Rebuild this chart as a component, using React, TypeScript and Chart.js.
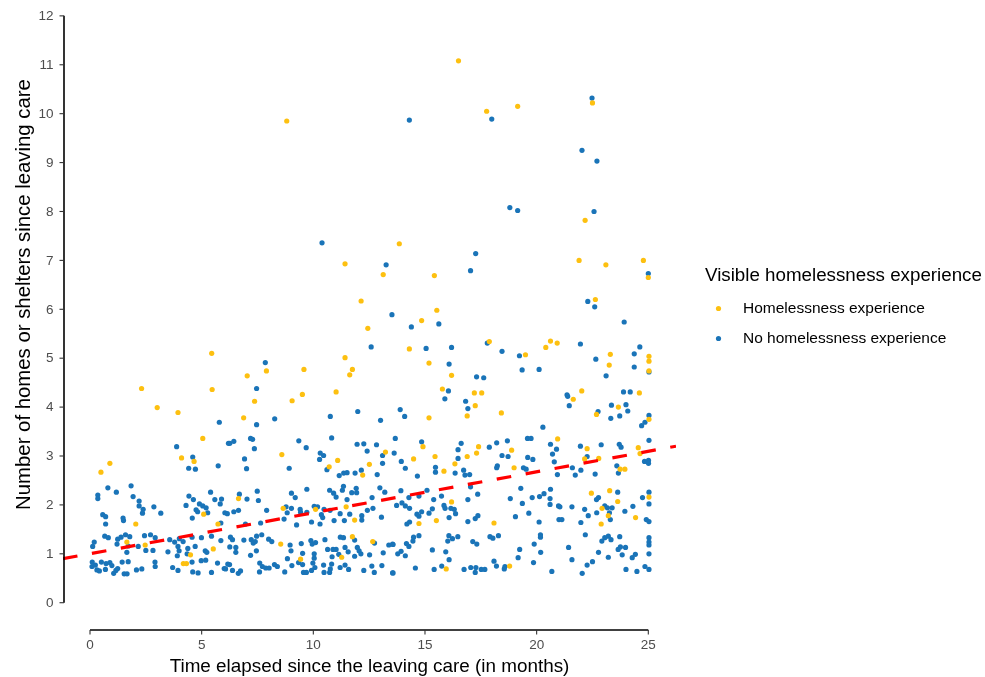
import React, { useEffect, useRef } from "react";
import { Chart, registerables } from "chart.js";

Chart.register(...registerables);

// ---------- text ----------
const X_TITLE = "Time elapsed since the leaving care (in months)";
const Y_TITLE = "Number of homes or shelters since leaving care";
const LEGEND_TITLE = "Visible homelessness experience";
const SERIES_LABELS = ["Homelessness experience", "No homelessness experience"];

// ---------- ticks ----------
const X_TICKS = [0, 5, 10, 15, 20, 25];
const Y_TICKS = [0, 1, 2, 3, 4, 5, 6, 7, 8, 9, 10, 11, 12];

// ---------- trend line (end points) ----------
const TREND_X = [-1.21, 26.24];
const TREND_Y = [0.9, 3.2];

// ---------- series: [months, homes] ----------
const homelessness: [number, number][] = [
  [16.5, 11.08], [8.81, 9.85], [17.76, 10.05], [19.15, 10.15], [22.5, 10.22], [22.17, 7.82],
  [13.85, 7.34], [11.42, 6.93], [13.13, 6.71], [15.42, 6.69], [21.9, 7.0], [23.1, 6.91],
  [24.78, 7.0], [25.0, 6.65], [12.14, 6.17], [22.63, 6.2], [15.53, 5.98], [14.85, 5.77],
  [12.44, 5.61], [14.3, 5.19], [17.88, 5.34], [20.62, 5.35], [20.41, 5.22], [20.92, 5.31],
  [19.5, 5.07], [15.18, 4.9], [16.19, 4.65], [15.78, 4.37], [17.21, 4.29], [17.54, 4.29],
  [23.3, 5.08], [23.25, 4.86], [25.03, 5.04], [25.03, 4.94], [25.03, 4.74], [22.02, 4.33],
  [24.6, 4.29],
  [5.45, 5.1], [11.42, 5.01], [11.75, 4.77], [11.63, 4.66], [9.58, 4.77], [7.9, 4.74],
  [7.04, 4.64], [2.31, 4.38], [5.47, 4.36], [9.51, 4.26], [11.02, 4.31],
  [3.01, 3.99], [3.94, 3.89], [5.05, 3.36], [0.49, 2.67], [0.89, 2.85], [4.1, 2.96],
  [4.66, 2.89], [2.05, 1.61], [5.09, 1.81], [5.73, 1.61], [1.65, 1.24], [2.47, 1.18],
  [4.5, 0.98], [5.52, 1.1], [4.18, 0.8], [4.32, 0.8],
  [7.37, 4.12], [6.88, 3.78], [9.05, 4.13], [8.59, 3.03], [11.09, 2.91], [10.71, 2.78],
  [13.23, 3.08], [12.51, 2.83], [12.21, 2.61], [6.65, 2.13], [8.65, 1.93], [10.1, 1.91],
  [11.47, 1.96], [11.85, 1.69], [8.54, 1.2], [11.27, 0.93], [11.75, 1.35], [12.66, 1.25],
  [9.43, 0.89],
  [17.25, 4.03], [16.89, 3.82], [18.42, 3.88], [15.18, 3.78], [14.91, 3.19], [15.45, 2.99],
  [14.49, 2.94], [15.85, 2.69], [16.34, 2.84], [16.89, 2.99], [17.31, 3.06], [17.4, 3.19],
  [18.88, 3.12], [18.99, 2.76], [20.94, 3.35], [16.19, 2.06], [14.73, 1.62], [15.51, 1.68],
  [18.09, 1.63], [15.95, 0.69], [18.79, 0.75],
  [21.64, 4.16], [23.66, 4.0], [22.68, 3.85], [25.03, 3.75], [22.26, 3.15], [22.15, 2.94],
  [22.78, 2.95], [24.55, 3.17], [24.63, 3.05], [23.74, 2.73], [23.95, 2.73], [22.45, 2.24],
  [23.27, 2.29], [23.63, 2.07], [25.03, 2.16], [22.93, 1.93], [23.21, 1.78], [24.43, 1.74],
  [22.89, 1.61],
];

const noHomelessness: [number, number][] = [
  [14.3, 9.87], [17.99, 9.89], [22.48, 10.32], [22.03, 9.25], [22.7, 9.03], [18.8, 8.08],
  [19.15, 8.02], [22.57, 8.0], [10.39, 7.36], [17.27, 7.14], [17.04, 6.79], [13.26, 6.91],
  [25.0, 6.73], [22.29, 6.16], [22.6, 6.05], [23.92, 5.74], [13.52, 5.89], [15.62, 5.7],
  [14.39, 5.64], [12.59, 5.23], [15.05, 5.2], [16.19, 5.22], [17.79, 5.31], [18.45, 5.14],
  [21.96, 5.29], [19.23, 5.05], [19.35, 4.76], [20.11, 4.77], [16.08, 4.88], [17.31, 4.62],
  [17.63, 4.6], [16.05, 4.33], [22.65, 4.98], [23.11, 4.64], [24.37, 5.09], [24.62, 5.23],
  [24.37, 4.82], [25.03, 4.72], [23.89, 4.31], [24.19, 4.31], [21.36, 4.25],
  [7.85, 4.91], [7.46, 4.38],
  [5.79, 3.69], [6.2, 3.26], [3.88, 3.19], [4.6, 2.98], [4.42, 2.75], [4.72, 2.73],
  [5.74, 2.8], [0.8, 2.35], [1.18, 2.26], [1.84, 2.39], [1.93, 2.17], [0.35, 2.2],
  [0.35, 2.13], [2.2, 2.08], [2.2, 1.98], [2.38, 1.91], [2.35, 1.83], [2.86, 1.96],
  [3.17, 1.83], [0.57, 1.8], [0.7, 1.76], [0.7, 1.61], [1.48, 1.73], [1.5, 1.68],
  [4.43, 2.18], [4.63, 2.11], [4.3, 1.99], [5.4, 2.26], [5.59, 2.11], [5.89, 2.12],
  [5.83, 2.02], [4.9, 2.02], [5.05, 1.98], [5.2, 1.94], [4.75, 1.9], [4.82, 1.86],
  [5.27, 1.84], [4.58, 1.73], [5.86, 1.63], [6.04, 1.84],
  [0.66, 1.36], [0.82, 1.33], [1.24, 1.3], [1.39, 1.34], [1.59, 1.39], [1.78, 1.35],
  [2.44, 1.37], [2.71, 1.39], [2.92, 1.33], [2.16, 1.15], [2.5, 1.07], [2.82, 1.07],
  [0.19, 1.24], [0.12, 1.15], [1.71, 1.16], [1.65, 1.03], [1.21, 1.2], [3.57, 1.29],
  [3.79, 1.24], [4.0, 1.31], [4.17, 1.25], [3.94, 1.15], [3.91, 0.96], [3.99, 1.06],
  [4.38, 1.11], [4.35, 1.0], [4.57, 1.34], [4.71, 1.15], [4.99, 1.33], [5.16, 1.06],
  [5.23, 1.03], [5.44, 1.36], [5.86, 1.27], [3.49, 1.04], [2.91, 0.83], [2.92, 0.74],
  [0.1, 0.83], [0.09, 0.74], [0.24, 0.77], [0.31, 0.67], [0.42, 0.65], [0.51, 0.83],
  [0.72, 0.8], [0.89, 0.82], [0.98, 0.76], [0.69, 0.68], [1.06, 0.6], [1.16, 0.66],
  [1.24, 0.7], [1.53, 0.59], [1.66, 0.59], [1.44, 0.83], [1.71, 0.84], [2.08, 0.67],
  [2.32, 0.69], [3.7, 0.72], [3.94, 0.66], [4.57, 0.83], [4.6, 0.63], [4.84, 0.61],
  [4.98, 0.86], [5.18, 0.87], [5.44, 0.62], [5.71, 0.81], [6.01, 0.7], [6.17, 0.79],
  [7.46, 3.64], [8.27, 3.76], [10.76, 3.81], [11.99, 3.91], [13.01, 3.73], [6.26, 3.26],
  [6.44, 3.3], [7.19, 3.36], [7.28, 3.34], [7.36, 3.15], [6.92, 2.94], [7.01, 2.74],
  [9.35, 3.31], [9.68, 3.17], [8.92, 2.75], [10.82, 3.37], [10.31, 3.06], [10.46, 3.01],
  [10.28, 2.93], [10.61, 2.72], [11.96, 3.24], [12.26, 3.25], [12.41, 3.1], [12.83, 3.23],
  [13.1, 3.01], [13.1, 2.85], [12.15, 2.71], [12.86, 2.62], [11.16, 2.6], [11.36, 2.65],
  [11.51, 2.66], [11.87, 2.65],
  [6.69, 2.22], [7.03, 2.12], [7.49, 2.28], [7.54, 2.09], [9.02, 2.24], [9.19, 2.15],
  [9.71, 2.32], [10.73, 2.3], [10.91, 2.24], [11.02, 2.16], [11.3, 2.3], [11.35, 2.38],
  [11.51, 2.11], [11.72, 2.25], [11.92, 2.34], [11.94, 2.25], [12.63, 2.15], [12.98, 2.35],
  [13.2, 2.26],
  [6.15, 1.82], [6.44, 1.86], [6.65, 1.89], [6.96, 1.61], [7.64, 1.63], [7.91, 1.89],
  [8.78, 1.96], [8.83, 1.84], [9.02, 1.93], [8.69, 1.71], [9.25, 1.59], [9.41, 1.91],
  [9.43, 1.85], [9.71, 1.85], [10.04, 1.97], [10.19, 1.96], [10.36, 1.8], [10.42, 1.74],
  [10.3, 1.61], [9.92, 1.65], [10.48, 1.91], [10.75, 1.89], [10.93, 1.68], [11.2, 1.82],
  [11.39, 1.68], [11.63, 1.81], [12.17, 1.78], [12.17, 1.69], [12.42, 1.89], [12.67, 1.93],
  [13.05, 1.75],
  [6.29, 1.34], [6.26, 1.14], [6.53, 1.13], [6.53, 1.03], [6.38, 1.29], [6.89, 1.28],
  [7.22, 1.29], [7.31, 1.22], [7.4, 1.25], [7.46, 1.36], [7.69, 1.39], [7.19, 0.97],
  [7.45, 1.06], [8.0, 1.3], [8.14, 1.25], [8.96, 1.18], [9.0, 1.06], [8.84, 0.9],
  [9.46, 1.21], [9.52, 1.01], [9.89, 1.27], [9.95, 1.2], [10.04, 1.0], [10.1, 1.23],
  [10.52, 1.29], [10.64, 1.09], [10.88, 1.09], [11.02, 1.09], [11.21, 1.34], [11.35, 1.33],
  [11.14, 0.99], [10.84, 0.94], [11.42, 1.13], [11.56, 1.04], [11.85, 1.28], [11.97, 1.13],
  [12.05, 1.06], [12.13, 1.0], [11.85, 0.95], [12.52, 0.98], [12.74, 1.22], [13.13, 1.02],
  [13.38, 1.18], [13.55, 1.2],
  [6.25, 0.78], [6.07, 0.69], [6.38, 0.66], [6.64, 0.6], [6.74, 0.65], [7.59, 0.63],
  [7.6, 0.81], [7.72, 0.74], [7.87, 0.71], [8.02, 0.71], [8.26, 0.78], [8.39, 0.74],
  [8.72, 0.63], [9.04, 0.76], [9.34, 0.82], [9.52, 0.78], [9.56, 0.62], [9.69, 0.62],
  [9.92, 0.66], [9.98, 0.81], [10.04, 0.91], [10.07, 0.72], [10.46, 0.77], [10.48, 0.62],
  [10.73, 0.62], [10.76, 0.69], [10.82, 0.79], [11.2, 0.72], [11.42, 0.77], [11.58, 0.68],
  [12.26, 0.66], [12.62, 0.75], [12.73, 0.62], [13.07, 0.76], [13.55, 0.61],
  [15.89, 4.17], [16.82, 4.12], [16.92, 3.97], [13.89, 3.95], [14.09, 3.81], [20.28, 3.59],
  [13.67, 3.36], [13.62, 3.06], [14.85, 3.29], [16.62, 3.26], [16.48, 3.13], [16.48, 2.95],
  [13.94, 2.89], [14.12, 2.75], [15.47, 2.77], [15.47, 2.67], [14.66, 2.59], [16.35, 2.65],
  [16.73, 2.71], [16.79, 2.61], [17.0, 2.62], [17.88, 3.18], [18.21, 3.27], [18.69, 3.31],
  [18.45, 3.01], [18.72, 2.99], [18.24, 2.8], [18.21, 2.76], [19.59, 3.36], [19.75, 3.36],
  [20.62, 3.24], [20.89, 3.14], [20.71, 3.04], [19.6, 2.97], [19.83, 2.93], [19.41, 2.76],
  [19.53, 2.73], [20.79, 2.88], [20.93, 2.62],
  [13.92, 2.29], [15.09, 2.3], [17.04, 2.37], [17.36, 2.22], [19.29, 2.34], [20.62, 2.32],
  [14.28, 2.15], [14.73, 2.18], [15.39, 2.11], [15.74, 2.18], [16.92, 2.11], [18.82, 2.13],
  [19.36, 2.03], [19.8, 2.15], [20.13, 2.17], [20.33, 2.23], [20.6, 2.13], [20.6, 2.01],
  [20.98, 1.98],
  [13.73, 1.99], [13.97, 2.04], [14.12, 1.98], [14.31, 1.93], [14.19, 1.61], [14.31, 1.65],
  [14.64, 1.81], [14.73, 1.77], [14.85, 1.86], [15.18, 1.83], [15.33, 1.92], [15.85, 1.99],
  [15.9, 1.93], [16.16, 1.93], [16.31, 1.91], [16.37, 1.82], [16.08, 1.74], [16.92, 1.66],
  [17.25, 1.72], [17.37, 1.78], [19.05, 1.76], [19.65, 1.83], [20.11, 1.65], [21.0, 1.7],
  [13.57, 1.19], [13.78, 1.0], [13.93, 1.05], [14.12, 0.96], [14.17, 1.21], [14.28, 1.15],
  [14.46, 1.26], [14.49, 1.34], [14.73, 1.37], [15.33, 1.08], [15.93, 1.04], [16.08, 0.88],
  [16.07, 1.37], [16.02, 1.26], [16.23, 1.31], [16.47, 1.35], [17.14, 1.25], [17.32, 1.2],
  [17.91, 1.35], [18.04, 1.32], [18.29, 1.37], [19.24, 1.09], [19.17, 0.92], [19.89, 1.2],
  [20.17, 1.39], [20.17, 1.34], [20.18, 1.03], [19.86, 0.82],
  [13.57, 0.61], [14.57, 0.71], [15.41, 0.68], [15.75, 0.75], [16.75, 0.68], [17.05, 0.72],
  [17.25, 0.62], [17.28, 0.72], [17.52, 0.68], [17.68, 0.68], [18.09, 0.85], [18.2, 0.75],
  [18.55, 0.69], [18.58, 0.74], [20.68, 0.64],
  [21.39, 4.22], [21.46, 4.03], [23.35, 4.04], [24.0, 4.05], [24.08, 3.92], [22.75, 3.91],
  [23.32, 3.77], [23.72, 3.82], [25.03, 3.83], [24.85, 3.69], [24.7, 3.62], [21.96, 3.2],
  [22.89, 3.23], [22.26, 2.99], [23.7, 3.24], [23.78, 3.18], [25.03, 3.32], [24.83, 2.89],
  [25.01, 2.91], [25.01, 2.85], [21.98, 2.71], [21.73, 2.61], [22.62, 2.63], [23.59, 2.8],
  [23.66, 2.65], [21.6, 2.76],
  [22.68, 2.11], [22.77, 2.15], [23.63, 2.26], [24.74, 2.15], [25.03, 2.26], [25.03, 2.02],
  [21.04, 1.96], [21.58, 1.96], [22.15, 1.91], [23.05, 1.98], [23.17, 1.94], [23.38, 1.94],
  [23.26, 1.84], [22.31, 1.78], [22.69, 1.84], [23.3, 1.7], [23.95, 1.87], [24.31, 1.97],
  [24.91, 1.7], [25.03, 1.66], [21.13, 1.7], [21.98, 1.64],
  [22.18, 1.39], [22.92, 1.26], [23.05, 1.33], [23.21, 1.36], [23.33, 1.29], [23.72, 1.35],
  [23.65, 1.09], [23.75, 1.14], [23.98, 1.13], [23.83, 0.98], [24.42, 0.99], [24.28, 0.92],
  [25.03, 1.33], [25.03, 1.24], [25.03, 1.18], [25.03, 1.0], [21.43, 1.13], [22.77, 1.03],
  [23.21, 0.93], [21.58, 0.88], [22.5, 0.84], [22.26, 0.77], [22.04, 0.6], [24.0, 0.68],
  [24.49, 0.64], [24.85, 0.74], [25.03, 0.68],
];

// ---------- styles ----------
const YELLOW = "#FDC010";
const BLUE = "#1A74B8";
const RED = "#FF0000";
const FONT = "'Liberation Sans', Arial, Helvetica, sans-serif";

function fitSize(ctx: CanvasRenderingContext2D, text: string, width: number): number {
  ctx.font = `100px ${FONT}`;
  const w = ctx.measureText(text).width;
  return (100 * width) / w;
}

const decorPlugin = {
  id: "decor",
  afterDraw(chart: any) {
    const { ctx, scales } = chart;
    const xs = scales.x;
    const ys = scales.y;
    const area = chart.chartArea;
    ctx.save();

    // axis lines (capped at tick range)
    ctx.strokeStyle = "#000000";
    ctx.lineWidth = 1.6;
    const yAxisX = area.left + 1;
    const xAxisY = area.bottom;
    ctx.beginPath();
    ctx.moveTo(yAxisX, ys.getPixelForValue(Y_TICKS[0]));
    ctx.lineTo(yAxisX, ys.getPixelForValue(Y_TICKS[Y_TICKS.length - 1]));
    ctx.stroke();
    ctx.beginPath();
    ctx.moveTo(xs.getPixelForValue(X_TICKS[0]), xAxisY);
    ctx.lineTo(xs.getPixelForValue(X_TICKS[X_TICKS.length - 1]), xAxisY);
    ctx.stroke();

    // tick marks
    ctx.strokeStyle = "#333333";
    ctx.lineWidth = 1.1;
    Y_TICKS.forEach((v) => {
      const py = ys.getPixelForValue(v);
      ctx.beginPath();
      ctx.moveTo(yAxisX - 4.5, py);
      ctx.lineTo(yAxisX, py);
      ctx.stroke();
    });
    X_TICKS.forEach((v) => {
      const px = xs.getPixelForValue(v);
      ctx.beginPath();
      ctx.moveTo(px, xAxisY);
      ctx.lineTo(px, xAxisY + 4.5);
      ctx.stroke();
    });

    // tick labels
    ctx.fillStyle = "#4D4D4D";
    ctx.font = `13.5px ${FONT}`;
    ctx.textAlign = "right";
    ctx.textBaseline = "middle";
    Y_TICKS.forEach((v) => {
      ctx.fillText(String(v), yAxisX - 10.5, ys.getPixelForValue(v) + 0.5);
    });
    ctx.textAlign = "center";
    X_TICKS.forEach((v) => {
      ctx.fillText(String(v), xs.getPixelForValue(v), xAxisY + 15.5);
    });

    // axis titles
    ctx.fillStyle = "#000000";
    const xtSize = fitSize(ctx, X_TITLE, 400);
    ctx.font = `${xtSize}px ${FONT}`;
    ctx.textAlign = "center";
    ctx.textBaseline = "middle";
    ctx.fillText(X_TITLE, (area.left + area.right) / 2, 667);

    const ytSize = fitSize(ctx, Y_TITLE, 431);
    ctx.save();
    ctx.translate(24, 294.5);
    ctx.rotate(-Math.PI / 2);
    ctx.font = `${ytSize}px ${FONT}`;
    ctx.textAlign = "center";
    ctx.textBaseline = "middle";
    ctx.fillText(Y_TITLE, 0, 0);
    ctx.restore();

    // legend
    const ltSize = fitSize(ctx, LEGEND_TITLE, 277);
    ctx.font = `${ltSize}px ${FONT}`;
    ctx.textAlign = "left";
    ctx.textBaseline = "middle";
    ctx.fillText(LEGEND_TITLE, 705, 276);

    const liSize = fitSize(ctx, SERIES_LABELS[0], 182);
    const colors = [YELLOW, BLUE];
    SERIES_LABELS.forEach((label, i) => {
      const cy = 309 + i * 30;
      ctx.fillStyle = colors[i];
      ctx.beginPath();
      ctx.arc(718.5, cy - 0.5, 2.6, 0, Math.PI * 2);
      ctx.fill();
      ctx.fillStyle = "#000000";
      ctx.font = `${liSize}px ${FONT}`;
      ctx.fillText(label, 743, cy);
    });

    ctx.restore();
  },
};

export default function App() {
  const canvasRef = useRef<HTMLCanvasElement | null>(null);

  useEffect(() => {
    const canvas = canvasRef.current;
    if (!canvas) return;
    const chart = new Chart(canvas, {
      type: "scatter",
      data: {
        datasets: [
          {
            label: "Trend",
            type: "line",
            data: TREND_X.map((x, i) => ({ x, y: TREND_Y[i] })),
            borderColor: RED,
            borderWidth: 3.2,
            borderDash: [14.7, 14.7],
            pointRadius: 0,
            showLine: true,
            fill: false,
            order: 0,
          } as any,
          {
            label: SERIES_LABELS[0],
            data: homelessness.map(([x, y]) => ({ x, y })),
            backgroundColor: YELLOW,
            borderWidth: 0,
            pointRadius: 2.6,
            order: 1,
          },
          {
            label: SERIES_LABELS[1],
            data: noHomelessness.map(([x, y]) => ({ x, y })),
            backgroundColor: BLUE,
            borderWidth: 0,
            pointRadius: 2.6,
            order: 2,
          },
        ],
      },
      options: {
        responsive: false,
        animation: false,
        devicePixelRatio: 1,
        layout: { padding: { left: 63, right: 309, top: 10, bottom: 47 } },
        plugins: { legend: { display: false }, tooltip: { enabled: false } },
        events: [],
        scales: {
          x: { type: "linear", min: -1.209, max: 26.24, display: false },
          y: { type: "linear", min: -0.558, max: 12.12, display: false },
        },
      },
      plugins: [decorPlugin],
    });
    return () => chart.destroy();
  }, []);

  return (
    <div style={{ position: "fixed", left: 0, top: 0, width: 985, height: 677, background: "#ffffff" }}>
      <canvas ref={canvasRef} width={985} height={677} />
    </div>
  );
}
